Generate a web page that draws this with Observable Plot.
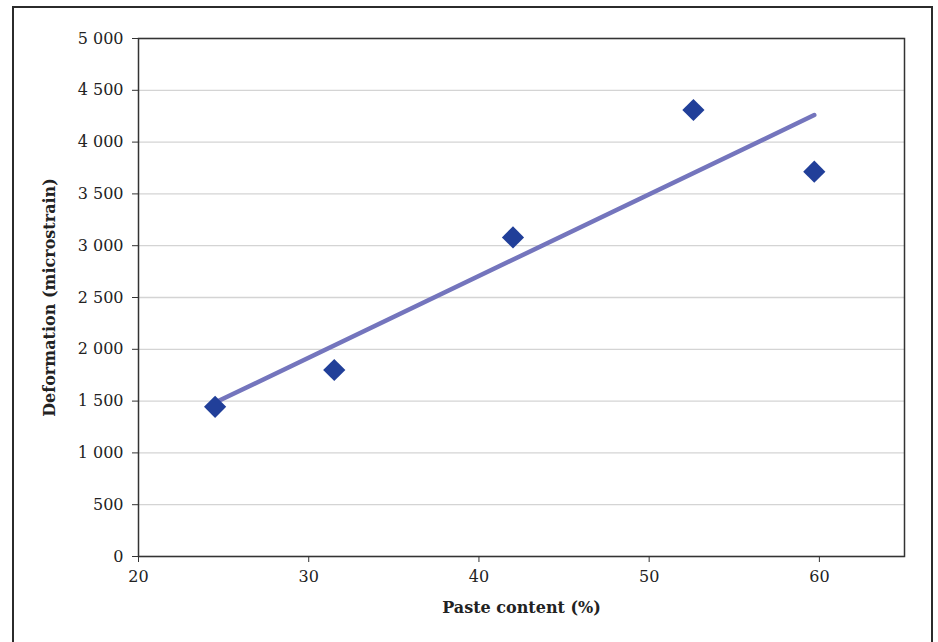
<!DOCTYPE html>
<html>
<head>
<meta charset="utf-8">
<script src="https://cdn.jsdelivr.net/npm/d3@7"></script>
<script src="https://cdn.jsdelivr.net/npm/@observablehq/plot@0.6"></script>
<style>
  html, body { margin: 0; padding: 0; background: #fff; overflow: hidden; }
  #wrap { position: relative; width: 938px; height: 642px; }
  #border { position: absolute; left: 12px; top: 6px; width: 921px; height: 700px; border: 2px solid #2b2b2b; box-sizing: border-box; pointer-events: none; }
</style>
</head>
<body>
<div id="wrap"><div id="border"></div><div id="chart"></div></div>
<script>
const pasteContent = [24.5, 31.5, 42.0, 52.6, 59.7];
const deformation = [1445, 1800, 3080, 4310, 3715];
const xTicks = [20, 30, 40, 50, 60];
const yTicks = [0, 500, 1000, 1500, 2000, 2500, 3000, 3500, 4000, 4500, 5000];

const data = pasteContent.map((x, i) => ({x, y: deformation[i]}));
const fmt = d3.formatLocale({decimal: ".", thousands: " ", grouping: [3], currency: ["", ""]}).format(",");

const chart = Plot.plot({
  width: 938,
  height: 642,
  marginLeft: 138,
  marginRight: 34,
  marginTop: 38,
  marginBottom: 86,
  style: {fontFamily: "'DejaVu Serif', serif", fontSize: "16px", color: "#222", background: "transparent"},
  x: {domain: [20, 65]},
  y: {domain: [0, 5000]},
  marks: [
    Plot.gridY(yTicks, {stroke: "#d4d4d4", strokeOpacity: 1, strokeWidth: 1.3}),
    Plot.frame({stroke: "#333", strokeWidth: 1.5}),
    Plot.axisY(yTicks, {tickFormat: fmt, tickSize: 6, tickPadding: 9, stroke: "#333", fontSize: 16,
      label: "Deformation (microstrain)", labelAnchor: "center", labelArrow: "none", labelOffset: 95}),
    Plot.axisX(xTicks, {tickSize: 6, tickPadding: 8, stroke: "#333", fontSize: 16,
      label: "Paste content (%)", labelAnchor: "center", labelArrow: "none", labelOffset: 56}),
    Plot.linearRegressionY(data, {x: "x", y: "y", ci: 0, stroke: "#7475bd", strokeWidth: 4.5}),
    Plot.dot(data, {x: "x", y: "y", symbol: "diamond2", r: 10, fill: "#213f99", stroke: "none"})
  ]
});
document.getElementById("chart").appendChild(chart);
// make only the axis titles bold
chart.querySelectorAll("g[aria-label='y-axis label'] text, g[aria-label='x-axis label'] text").forEach(t => t.setAttribute("font-weight", "bold"));
</script>
</body>
</html>
